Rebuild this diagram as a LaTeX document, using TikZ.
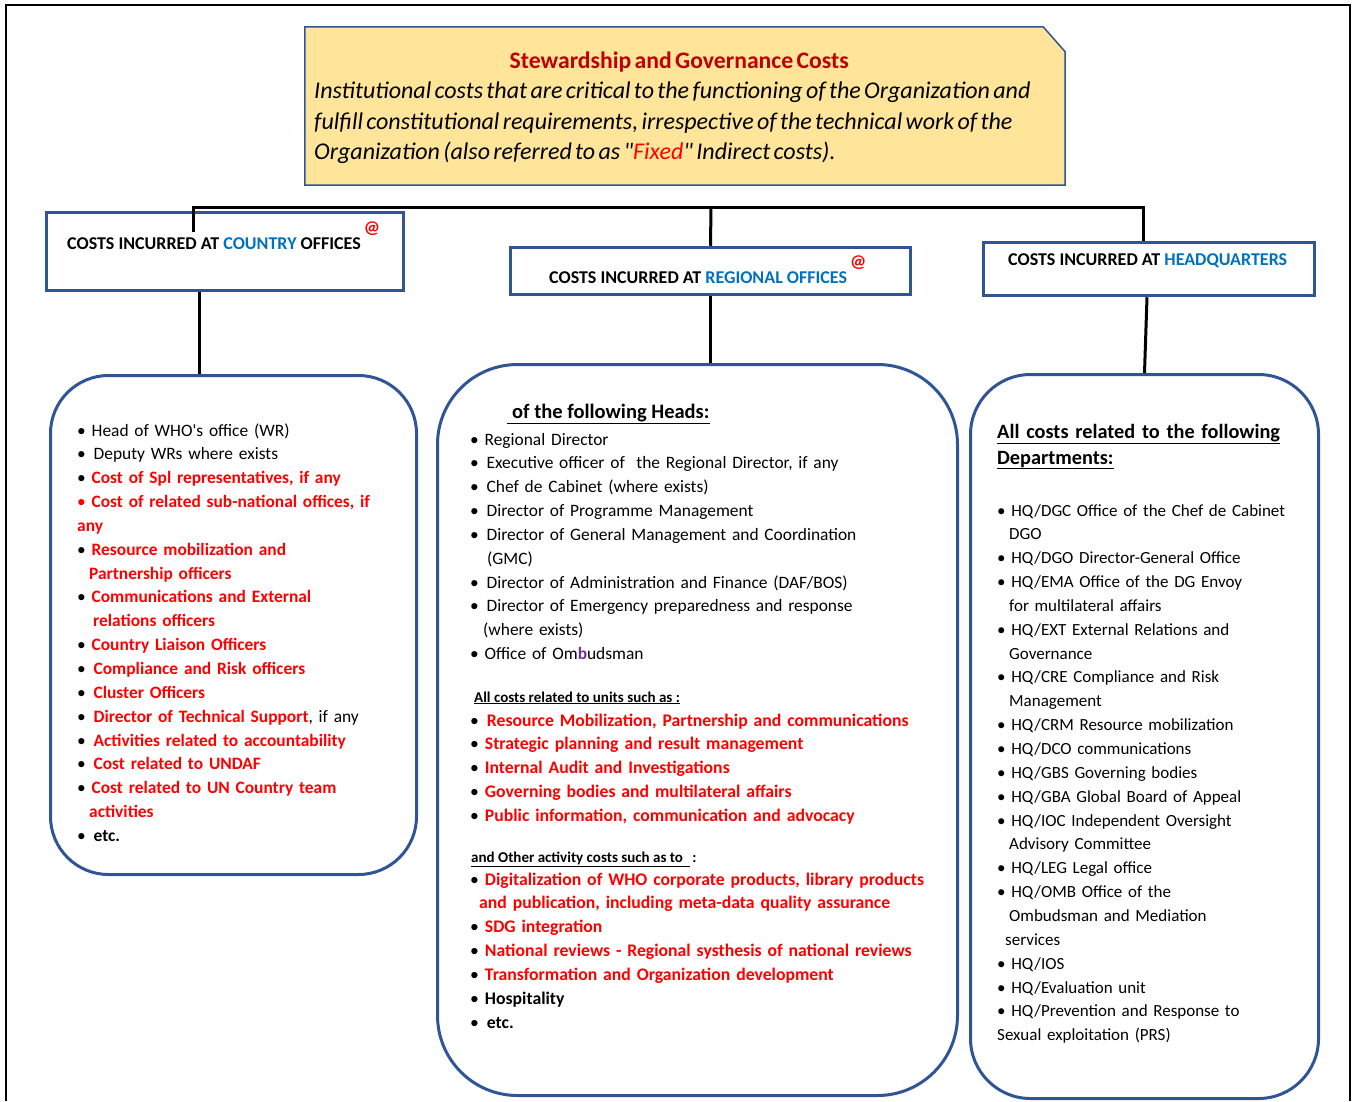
\documentclass[tikz,border=0pt]{standalone}
\usepackage{fontspec}
\setmainfont{Carlito}
\usepackage{tikz}
\usetikzlibrary{positioning}
\usepackage{xcolor}
\definecolor{whored}{RGB}{255,0,0}
\definecolor{darkred}{RGB}{192,0,0}
\definecolor{whoblue}{RGB}{0,112,192}
\definecolor{boxblue}{RGB}{47,85,151}
\definecolor{paleyellow}{RGB}{255,229,153}
\definecolor{ombpurple}{RGB}{112,48,160}
\tikzstyle{link} = [line width=3pt, black]
\tikzstyle{headbox} = [draw=boxblue, line width=3.5pt, inner sep=0pt]
\tikzstyle{listbox} = [draw=boxblue, line width=3pt, inner sep=0pt]
\tikzstyle{headtext} = [anchor=base west, inner sep=0pt, font=\fontsize{18}{22}\selectfont\bfseries]
\tikzstyle{listtext} = [anchor=base west, inner sep=0pt, text width=480pt, align=left, font=\fontsize{17.4}{23.85}\selectfont]
\tikzstyle{redlisttext} = [listtext, font=\fontsize{17.7}{23.85}\selectfont]
\tikzstyle{hqtext} = [listtext, font=\fontsize{17}{23.85}\selectfont]
\tikzstyle{subhead} = [anchor=base west, inner sep=0pt, font=\fontsize{15}{18}\selectfont\bfseries]
\newcommand{\itm}{\textbullet\ }
\newcommand{\itmw}{\textbullet\ \hspace{2pt}}
\newcommand{\rtxt}[1]{\textcolor{whored}{\bfseries #1}}
\newcommand{\atmark}{\raisebox{16pt}{\textcolor{whored}{\bfseries @}}}

\begin{document}
\begin{tikzpicture}[x=1pt, y=-1pt]
\useasboundingbox (0,0) rectangle (1355,1101);
% outer frame
\draw[line width=2pt] (6,1101) -- (6,5) -- (1350,5) -- (1350,1101);

% title box
\node[minimum width=760pt, minimum height=158pt, inner sep=0pt] (title) at (685,106) {};
\filldraw[draw=boxblue, line width=1.5pt, fill=paleyellow] (title.south west) -- (title.north west)
  -- ([xshift=-22pt]title.north east) -- ([yshift=-25pt]title.north east) -- (title.south east) -- cycle;
\node[anchor=base west, inner sep=0pt, text width=730pt, align=left] (titletext) at (314,68) {%
  {\centering\fontsize{23.7}{30.5}\selectfont\bfseries\color{darkred}Stewardship and Governance Costs\par}
  {\fontsize{24}{30.5}\selectfont\itshape Institutional costs that are critical to the functioning of the Organization and\\
  fulfill constitutional requirements, irrespective of the technical work of the\\
  Organization (also referred to as \textquotedbl\textcolor{whored}{Fixed}\textquotedbl{} Indirect costs).\par}};

% level boxes
\node[headbox, minimum width=357pt, minimum height=78pt] (co) at (225,251.5) {};
\node[headbox, minimum width=400pt, minimum height=47pt] (ro) at (710.5,271) {};
\node[headbox, minimum width=331pt, minimum height=53pt] (hq) at (1149,269) {};
\node[headtext] (cotext) at (67,249) {COSTS INCURRED AT \textcolor{whoblue}{COUNTRY} OFFICES\,\atmark};
\node[headtext] (rotext) at (549,283) {COSTS INCURRED AT \textcolor{whoblue}{REGIONAL OFFICES}\,\atmark};
\node[headtext] (hqtext) at (1008,265) {COSTS INCURRED AT \textcolor{whoblue}{HEADQUARTERS}};

% list boxes
\node[listbox, rounded corners=58pt, minimum width=366pt, minimum height=499pt] (colist) at (233.5,625) {};
\node[listbox, rounded corners=80pt, minimum width=520pt, minimum height=731pt] (rolist) at (697.5,730) {};
\node[listbox, rounded corners=60pt, minimum width=348pt, minimum height=724pt] (hqlist) at (1144.5,736.5) {};

% connectors
\coordinate (cojoin) at (193,232);
\coordinate (bar) at (711,207);
\draw[link] (cojoin) -- (cojoin |- bar) -- ([xshift=-6pt]hq.north |- bar) -- ([xshift=-6pt]hq.north);
\draw[link] (bar) -- (ro.north);
\draw[link] ([xshift=-26pt]co.south) -- ([xshift=-26pt]co.south |- colist.north);
\draw[link] (ro.south) -- (ro.south |- rolist.north);
\draw[link] ([xshift=-2pt]hq.south) -- (hqlist.north);

% country offices
\node[listtext] (colines) at (77,436) {%
\itm Head of WHO\textquotesingle s office (WR)\\
\itmw Deputy WRs where exists\\
\itm\rtxt{Cost of Spl representatives, if any}\\
\textcolor{whored}{\textbullet}\ \rtxt{Cost of related sub-national offices, if}\\
\rtxt{any}\\
\itm\rtxt{Resource mobilization and}\\
\hspace*{12pt}\rtxt{Partnership officers}\\
\itm\rtxt{Communications and External}\\
\hspace*{16pt}\rtxt{relations officers}\\
\itm\rtxt{Country Liaison Officers}\\
\itmw\rtxt{Compliance and Risk officers}\\
\itmw\rtxt{Cluster Officers}\\
\itmw\rtxt{Director of Technical Support}, if any\\
\itmw\rtxt{Activities related to accountability}\\
\itmw\rtxt{Cost related to UNDAF}\\
\itm\rtxt{Cost related to UN Country team}\\
\hspace*{12pt}\rtxt{activities}\\
\itmw\textbf{etc.}};

% regional offices
\node[anchor=base west, inner sep=0pt, font=\fontsize{20.5}{24}\selectfont\bfseries] (roheadline) at (507,418)
  {\underline{\hspace{5pt}of the following Heads:}};
\node[listtext] (roheads) at (470,445) {%
\itm Regional Director\\
\itmw Executive officer of \ the Regional Director, if any\\
\itmw Chef de Cabinet (where exists)\\
\itmw Director of Programme Management\\
\itmw Director of General Management and Coordination\\
\hspace*{17pt}(GMC)\\
\itmw Director of Administration and Finance (DAF/BOS)\\
\itmw Director of Emergency preparedness and response\\
\hspace*{13pt}(where exists)\\
\itm Office of Om\textcolor{ombpurple}{\textbf{b}}udsman};
\node[subhead] (rounits) at (474,702) {\underline{All costs related to units such as :}};
\node[redlisttext] (rounitlist) at (470,726) {%
\itmw\rtxt{Resource Mobilization, Partnership and communications}\\
\itm\rtxt{Strategic planning and result management}\\
\itm\rtxt{Internal Audit and Investigations}\\
\itm\rtxt{Governing bodies and multilateral affairs}\\
\itm\rtxt{Public information, communication and advocacy}};
\node[subhead] (roother) at (471,862) {\underline{and Other activity costs such as to\ \ }\,:};
\node[redlisttext] (rootherlist) at (470,885) {%
\itm\rtxt{Digitalization of WHO corporate products, library products}\\
\hspace*{9pt}\rtxt{and publication, including meta-data quality assurance}\\
\itm\rtxt{SDG integration}\\
\itm\rtxt{National reviews - Regional systhesis of national reviews}\\
\itm\rtxt{Transformation and Organization development}\\
\itm\textbf{Hospitality}\\
\itmw\textbf{etc.}};

% headquarters
\node[anchor=base west, inner sep=0pt, text width=320pt, align=left,
  font=\fontsize{20.3}{26}\selectfont\bfseries] (hqheadline) at (997,438)
  {\underline{All costs related to the following}\\ \underline{Departments:}};
\node[hqtext] (hqlines) at (997,516) {%
\itm HQ/DGC Office of the Chef de Cabinet\\
\hspace*{12pt}DGO\\
\itm HQ/DGO Director-General Office\\
\itm HQ/EMA Office of the DG Envoy\\
\hspace*{12pt}for multilateral affairs\\
\itm HQ/EXT External Relations and\\
\hspace*{12pt}Governance\\
\itm HQ/CRE Compliance and Risk\\
\hspace*{12pt}Management\\
\itm HQ/CRM Resource mobilization\\
\itm HQ/DCO communications\\
\itm HQ/GBS Governing bodies\\
\itm HQ/GBA Global Board of Appeal\\
\itm HQ/IOC Independent Oversight\\
\hspace*{12pt}Advisory Committee\\
\itm HQ/LEG Legal office\\
\itm HQ/OMB Office of the\\
\hspace*{12pt}Ombudsman and Mediation\\
\hspace*{8pt}services\\
\itm HQ/IOS\\
\itm HQ/Evaluation unit\\
\itm HQ/Prevention and Response to\\
Sexual exploitation (PRS)};
\end{tikzpicture}
\end{document}
